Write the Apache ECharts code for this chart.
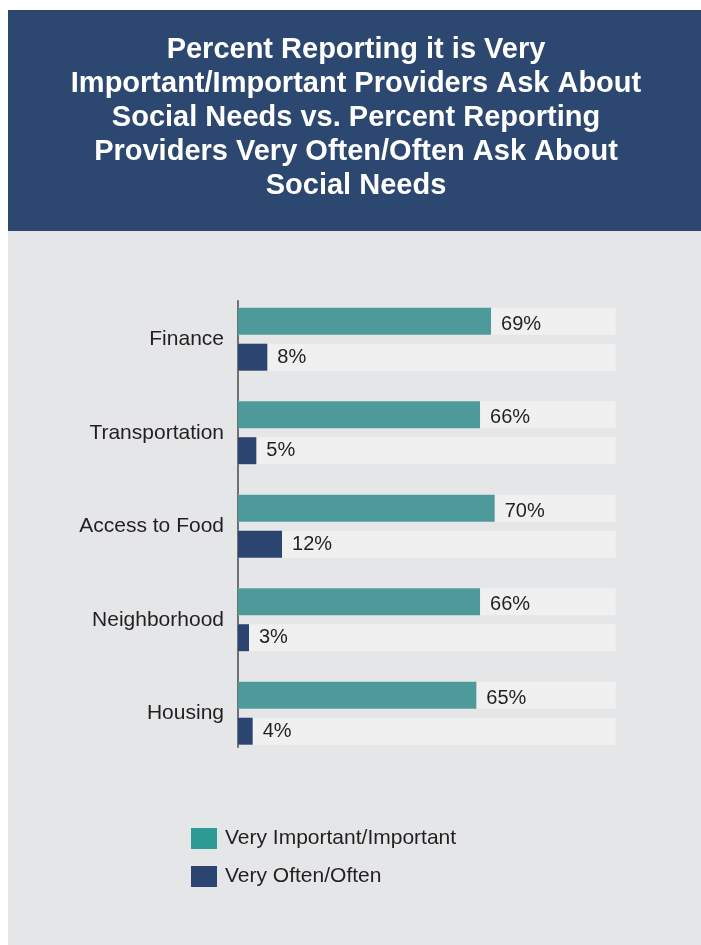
<!DOCTYPE html>
<html>
<head>
<meta charset="utf-8">
<script src="https://cdn.jsdelivr.net/npm/echarts@6/dist/echarts.min.js"></script>
<style>
html,body{margin:0;padding:0;background:#ffffff;}
#chart{width:701px;height:945px;}
</style>
</head>
<body>
<div id="chart"></div>
<script>
const categories = ['Finance', 'Transportation', 'Access to Food', 'Neighborhood', 'Housing'];
const importantValues = [69, 66, 70, 66, 65];
const oftenValues = [8, 5, 12, 3, 4];
const seriesNames = ['Very Important/Important', 'Very Often/Often'];
const titleText = 'Percent Reporting it is Very\nImportant/Important Providers Ask About\nSocial Needs vs. Percent Reporting\nProviders Very Often/Often Ask About\nSocial Needs';

const FONT = '"Liberation Sans", Arial, Helvetica, sans-serif';
const TEXT = '#231f20';
const TEAL = '#4e9a9a';
const NAVY = '#2b4570';

const chart = echarts.init(document.getElementById('chart'), null, {renderer: 'canvas'});

const labelBase = {
  show: true,
  position: 'right',
  distance: 10,
  fontFamily: FONT,
  fontSize: 20,
  color: TEXT,
  formatter: p => p.value + '%'
};

chart.setOption({
  animation: false,
  backgroundColor: '#ffffff',
  graphic: [
    {type: 'rect', z: -10, shape: {x: 8, y: 10, width: 693, height: 221}, style: {fill: '#2d4870'}},
    {type: 'rect', z: -10, shape: {x: 8, y: 231, width: 693, height: 714}, style: {fill: '#e5e6e8'}},
    {
      type: 'text',
      z: 10,
      x: 356,
      y: 33,
      style: {
        text: titleText,
        fill: '#ffffff',
        font: 'bold 29px ' + FONT,
        lineHeight: 34,
        align: 'center',
        verticalAlign: 'top'
      }
    }
  ],
  legend: {
    orient: 'vertical',
    left: 191,
    top: 828,
    padding: 0,
    itemWidth: 26,
    itemHeight: 21,
    itemGap: 17,
    icon: 'rect',
    textStyle: {fontFamily: FONT, fontSize: 21, color: TEXT, padding: [0, 0, 0, 3]},
    data: [
      {name: seriesNames[0], itemStyle: {color: '#2e9a94'}},
      {name: seriesNames[1], itemStyle: {color: NAVY}}
    ]
  },
  grid: [
    {left: 238, width: 377.7, top: 292.5, height: 467.5, containLabel: false},
    {left: 238, width: 377.7, top: 301, height: 446, containLabel: false}
  ],
  xAxis: [
    {type: 'value', gridIndex: 0, min: 0, max: 103, show: false},
    {type: 'value', gridIndex: 1, min: 0, max: 103, show: false}
  ],
  yAxis: [
    {
      type: 'category',
      gridIndex: 0,
      data: categories,
      inverse: true,
      axisLine: {show: false},
      axisTick: {show: false},
      splitLine: {show: false},
      axisLabel: {fontFamily: FONT, fontSize: 21, color: TEXT, margin: 14}
    },
    {
      type: 'value',
      gridIndex: 1,
      axisLine: {show: true, lineStyle: {color: '#707070', width: 2}},
      axisTick: {show: false},
      axisLabel: {show: false},
      splitLine: {show: false}
    }
  ],
  series: [
    {
      name: seriesNames[0],
      type: 'bar',
      xAxisIndex: 0,
      yAxisIndex: 0,
      data: importantValues,
      barWidth: 27,
      barGap: '33%',
      itemStyle: {color: TEAL},
      showBackground: true,
      backgroundStyle: {color: '#f0f0f0'},
      label: Object.assign({}, labelBase, {offset: [0, 3]})
    },
    {
      name: seriesNames[1],
      type: 'bar',
      xAxisIndex: 0,
      yAxisIndex: 0,
      data: oftenValues,
      barWidth: 27,
      barGap: '33%',
      itemStyle: {color: NAVY},
      showBackground: true,
      backgroundStyle: {color: '#f0f0f0'},
      label: labelBase
    }
  ]
});
</script>
</body>
</html>
